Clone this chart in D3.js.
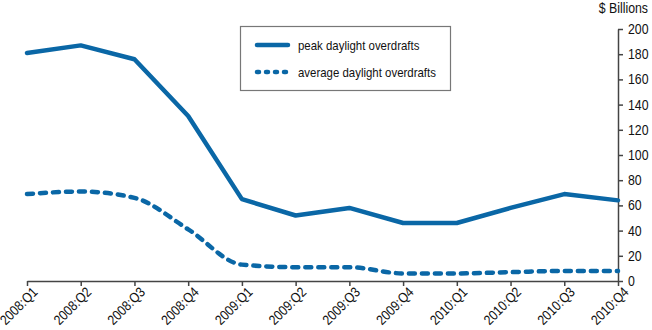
<!DOCTYPE html>
<html><head><meta charset="utf-8">
<script src="https://cdn.jsdelivr.net/npm/d3@7"></script>
<style>
body{margin:0;background:#fff;}
text{font-family:"Liberation Sans",Arial,Helvetica,sans-serif;fill:#111;}
</style></head><body>
<svg id="chart" width="652" height="330"></svg>
<script>
const categories = ["2008:Q1","2008:Q2","2008:Q3","2008:Q4","2009:Q1","2009:Q2","2009:Q3","2009:Q4","2010:Q1","2010:Q2","2010:Q3","2010:Q4"];
const peakValues = [181, 187, 176, 131, 65, 52, 58, 46, 46, 58, 69, 64];
const averageValues = [69, 71, 66, 41, 13, 11, 11, 6, 6, 7, 8, 8];
const yTicks = [0,20,40,60,80,100,120,140,160,180,200];
const seriesNames = ["peak daylight overdrafts","average daylight overdrafts"];

const color = "#0a67a6";
const SX = 0.88; // horizontal condensing to mimic a condensed face
const svg = d3.select("#chart");
const mLeft = 27, mRight = 618, mTop = 29, mBottom = 281;

const x = d3.scalePoint().domain(categories).range([mLeft, mRight]);
const y = d3.scaleLinear().domain([0, 200]).range([mBottom, mTop]);

// x axis
const xAxis = svg.append("g").attr("transform", `translate(0,${mBottom})`)
  .call(d3.axisBottom(x).tickSize(5).tickSizeOuter(0).tickPadding(3));
xAxis.select(".domain").attr("stroke", "#444").attr("stroke-width", 1.5);
xAxis.selectAll(".tick line").attr("stroke", "#444").attr("stroke-width", 1.5);
xAxis.selectAll(".tick text")
  .attr("font-size", 14)
  .attr("fill", "#111")
  .attr("text-anchor", "end")
  .attr("x", 0).attr("y", 0).attr("dy", null)
  .attr("transform", `translate(11,12) rotate(-45) scale(0.86,1)`);

// y axis
const yAxis = svg.append("g").attr("transform", `translate(${mRight},0)`)
  .call(d3.axisRight(y).tickValues(yTicks).tickSize(5).tickSizeOuter(0).tickPadding(4));
yAxis.select(".domain").attr("stroke", "#444").attr("stroke-width", 1.5);
yAxis.selectAll(".tick line").attr("stroke", "#444").attr("stroke-width", 1.5);
yAxis.selectAll(".tick text").attr("font-size", 14).attr("fill", "#111")
  .attr("x", 0).attr("transform", `translate(10,0) scale(${SX},1)`);

svg.append("text").attr("text-anchor", "end")
  .attr("transform", `translate(648,13) scale(${SX},1)`)
  .attr("font-size", 14).text("$ Billions");

// lines
const peakLine = d3.line().x((d, i) => x(categories[i])).y(d => y(d));
const avgLine = d3.line().x((d, i) => x(categories[i])).y(d => y(d)).curve(d3.curveMonotoneX);

svg.append("path").datum(peakValues).attr("d", peakLine)
  .attr("fill", "none").attr("stroke", color).attr("stroke-width", 4.5)
  .attr("stroke-linejoin", "round").attr("stroke-linecap", "round");
svg.append("path").datum(averageValues).attr("d", avgLine)
  .attr("fill", "none").attr("stroke", color).attr("stroke-width", 4.5)
  .attr("stroke-dasharray", "6,7").attr("stroke-linecap", "round");

// legend
const lg = svg.append("g");
lg.append("rect").attr("x", 240.5).attr("y", 26.5).attr("width", 210).attr("height", 64)
  .attr("fill", "#fff").attr("stroke", "#777").attr("stroke-width", 1.2);
lg.append("line").attr("x1", 257).attr("x2", 288).attr("y1", 45).attr("y2", 45)
  .attr("stroke", color).attr("stroke-width", 4.5).attr("stroke-linecap", "round");
lg.append("line").attr("x1", 257).attr("x2", 288).attr("y1", 72).attr("y2", 72)
  .attr("stroke", color).attr("stroke-width", 4.5).attr("stroke-linecap", "round")
  .attr("stroke-dasharray", "2,7");
lg.append("text").attr("transform", `translate(298,50) scale(${SX},1)`).attr("font-size", 13).text(seriesNames[0]);
lg.append("text").attr("transform", `translate(298,77) scale(${SX},1)`).attr("font-size", 13).text(seriesNames[1]);
</script>
</body></html>
